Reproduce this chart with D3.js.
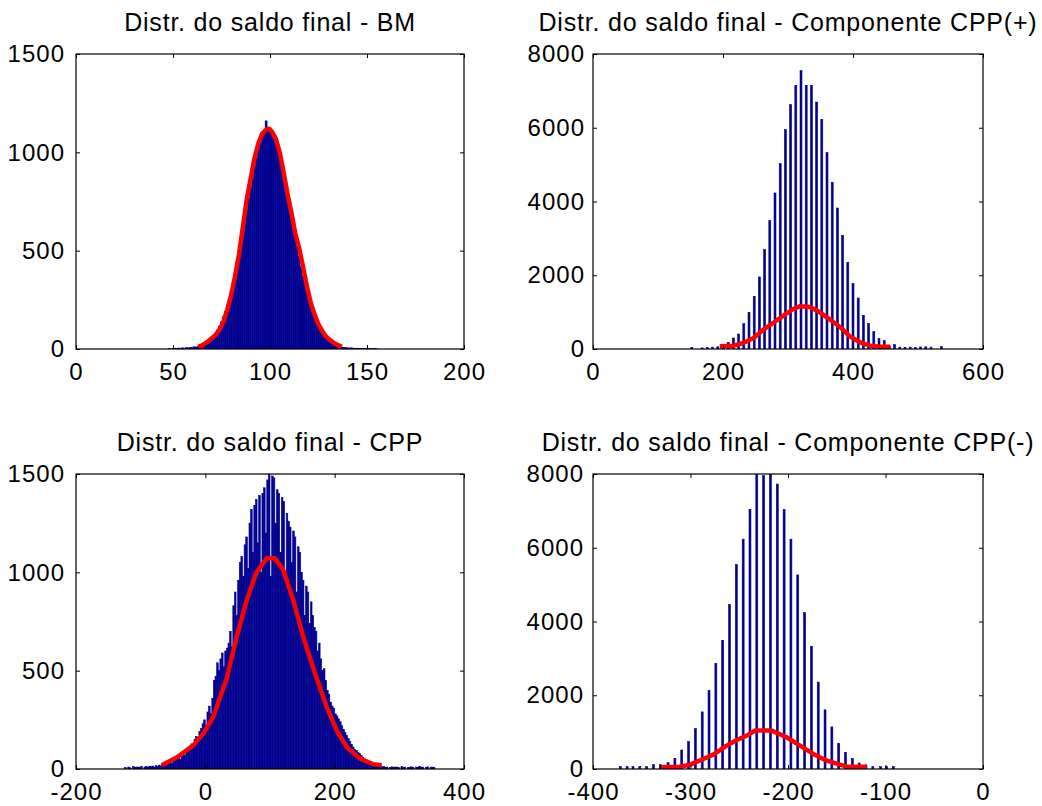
<!DOCTYPE html>
<html>
<head>
<meta charset="utf-8">
<script src="https://cdn.jsdelivr.net/npm/d3@7"></script>
<style>
  body { margin: 0; background: #fff; }
  svg text { font-family: "Liberation Sans", Arial, Helvetica, sans-serif; fill: #000; }
</style>
</head>
<body>
<svg id="fig" width="1042" height="806"></svg>
<script>
// ---------- Distr. do saldo final - BM (bin centres, width 1) ----------
const bmCenters = [48,49,50,51,52,53,54,55,56,57,58,59,60,61,62,63,64,65,66,67,68,69,70,71,72,73,74,75,76,77,78,79,80,81,82,83,84,85,86,87,88,89,90,91,92,93,94,95,96,97,98,99,100,101,102,103,104,105,106,107,108,109,110,111,112,113,114,115,116,117,118,119,120,121,122,123,124,125,126,127,128,129,130,131,132,133,134,135,136,137,138,139,140,141,142,143,144,145,146,147,148,149,150,151,152,153,154,155];
const bmCounts = [2,0,3,4,2,5,3,6,4,7,6,8,9,11,10,14,16,19,24,28,35,43,53,66,78,96,115,138,163,190,224,258,298,340,387,436,488,540,596,652,706,765,818,868,925,968,1012,1046,1078,1090,1160,1118,1125,1102,1086,1060,1030,995,950,905,852,798,742,688,628,575,520,470,420,372,328,288,250,214,182,156,132,110,92,76,62,51,42,34,28,22,18,15,12,10,8,7,6,5,6,4,3,4,2,3,2,3,1,2,2,1,2,1];
const bmFitX = [63,65,68,70,72,74,76,78,80,82,84,86,88,90,92,94,96,98,99.5,101,103,105,107,109,111,113,115,117,119,121,123,125,127,129,131,133,135,137];
const bmFitY = [12,18,38,55,72,100,140,200,275,370,480,620,760,865,970,1045,1095,1115,1120,1105,1070,1000,900,790,695,590,515,420,320,235,175,125,90,62,45,30,20,12];

// ---------- Componente CPP(+) (bin centres, width 3) ----------
const plusCenters = [152,168,176,184,192,200,208,216,224,232,240,248,256,264,272,280,288,296,304,312,320,328,336,344,352,360,368,376,384,392,400,408,416,424,432,440,448,456,464,472,480,488,496,504,512,520,536];
const plusCounts = [45,30,40,50,60,90,181,298,407,687,994,1428,1953,2694,3480,4231,5026,5948,6626,7150,7548,7150,7150,6698,6228,5324,4520,3824,3082,2350,1772,1383,913,687,470,289,226,80,118,50,45,50,40,55,60,50,65];
const plusFitX = [195,216,231,247,262,277,293,308,318,334,349,365,380,395,411,426,442,457];
const plusFitY = [72,90,163,298,524,705,904,1085,1157,1139,994,795,597,343,181,90,63,63];

// ---------- CPP (bin left edges, width 2.5) ----------
const cppEdges = [-125,-122.5,-120,-117.5,-115,-112.5,-110,-107.5,-105,-102.5,-100,-97.5,-95,-92.5,-90,-87.5,-85,-82.5,-80,-77.5,-75,-72.5,-70,-67.5,-65,-62.5,-60,-57.5,-55,-52.5,-50,-47.5,-45,-42.5,-40,-37.5,-35,-32.5,-30,-27.5,-25,-22.5,-20,-17.5,-15,-12.5,-10,-7.5,-5,-2.5,0,2.5,5,7.5,10,12.5,15,17.5,20,22.5,25,27.5,30,32.5,35,37.5,40,42.5,45,47.5,50,52.5,55,57.5,60,62.5,65,67.5,70,72.5,75,77.5,80,82.5,85,87.5,90,92.5,95,97.5,100,102.5,105,107.5,110,112.5,115,117.5,120,122.5,125,127.5,130,132.5,135,137.5,140,142.5,145,147.5,150,152.5,155,157.5,160,162.5,165,167.5,170,172.5,175,177.5,180,182.5,185,187.5,190,192.5,195,197.5,200,202.5,205,207.5,210,212.5,215,217.5,220,222.5,225,227.5,230,232.5,235,237.5,240,242.5,245,247.5,250,252.5,255,257.5,260,262.5,265,267.5,270,272.5,275,277.5,280,282.5,285,287.5,290,292.5,295,297.5,300,302.5,305,307.5,310,312.5,315,317.5,320,322.5,325,327.5,330,332.5,335,337.5,340,342.5,345,347.5,350,352.5];
const cppCounts = [
  8,0,10,6,0,12,8,10,
  10,8,12,0,10,14,9,12,
  12,15,10,18,14,20,16,22,
  24,28,22,32,36,30,42,48,
  55,62,50,72,80,68,92,100,
  110,128,105,150,165,140,190,205,
  230,250,215,290,320,280,360,450,
  470,540,500,560,590,520,600,615,
  640,700,620,830,900,780,960,1050,
  1080,980,1140,1180,1020,1250,1320,1100,
  1340,1370,1150,1390,1000,1400,1430,1200,
  1470,1500,980,1490,1480,1250,1420,1400,
  1100,1380,1360,960,1300,1260,1230,1050,
  1210,1180,900,1130,1100,1000,960,780,
  930,900,740,850,780,720,700,600,
  640,560,500,510,450,400,380,340,
  320,310,280,270,255,240,220,200,
  185,170,155,140,125,112,100,95,
  85,78,70,60,52,45,38,32,
  28,24,20,22,16,13,15,11,
  12,8,10,0,9,11,8,10,
  10,7,0,12,9,10,0,8,
  9,11,8,0,10,7,12,9,
  10,0,8,11,0,9,10,8];
const cppFitX = [-67.5,-44.3,-18.6,-3.1,12.3,33,48.5,64,79.4,94.9,107.7,120.6,136,151.5,169.6,187.6,203,218.6,239.2,259.7,272.7];
const cppFitY = [19,58,120,180,265,460,672,859,1003,1071,1071,1011,859,672,485,316,197,112,53,24,19];

// ---------- Componente CPP(-) (bin centres, width 2) ----------
const minusCenters = [-372,-365,-359,-352,-345,-338,-331,-323,-316,-309,-302,-295,-288,-281,-274,-267,-260,-253,-246,-239,-232,-225,-218,-211,-204,-197,-190,-183,-176,-169,-162,-155,-148,-141,-134,-127,-120,-113,-105,-99,-92];
const minusCounts = [63,63,63,63,63,118,118,172,290,516,743,1096,1549,2129,2863,3488,4458,5545,6233,7040,7991,7955,8300,7728,7040,6233,5264,4240,3325,2356,1604,1142,689,453,290,163,109,63,63,63,63];
const minusFitX = [-330.3,-310.8,-300.5,-286.9,-276.6,-262.9,-252.6,-242.4,-233.8,-216.7,-201.4,-187.7,-174,-160.3,-146.7,-139.8,-119.3];
const minusFitY = [45,63,118,272,390,634,788,906,1042,1042,861,634,408,226,118,63,63];

// ---------- axis ticks ----------
const bmXTicks = [0, 50, 100, 150, 200];
const bmXLabels = ["0", "50", "100", "150", "200"];
const plusXTicks = [0, 200, 400, 600];
const plusXLabels = ["0", "200", "400", "600"];
const cppXTicks = [-200, 0, 200, 400];
const cppXLabels = ["-200", "0", "200", "400"];
const minusXTicks = [-400, -300, -200, -100, 0];
const minusXLabels = ["-400", "-300", "-200", "-100", "0"];
const smallYTicks = [0, 500, 1000, 1500];
const smallYLabels = ["0", "500", "1000", "1500"];
const bigYTicks = [0, 2000, 4000, 6000, 8000];
const bigYLabels = ["0", "2000", "4000", "6000", "8000"];

const BAR = "#000090";

const panels = [
  { title: "Distr. do saldo final - BM", box: [76, 54, 464, 349],
    xDomain: [0, 200], yDomain: [0, 1500],
    bins: bmCenters, align: "center", width: 1, counts: bmCounts,
    fitX: bmFitX, fitY: bmFitY,
    xTicks: bmXTicks, xLabels: bmXLabels, yTicks: smallYTicks, yLabels: smallYLabels, yPad: 11 },
  { title: "Distr. do saldo final - Componente CPP(+)", box: [593, 54, 983, 349],
    xDomain: [0, 600], yDomain: [0, 8000],
    bins: plusCenters, align: "center", width: 3, counts: plusCounts,
    fitX: plusFitX, fitY: plusFitY,
    xTicks: plusXTicks, xLabels: plusXLabels, yTicks: bigYTicks, yLabels: bigYLabels, yPad: 8 },
  { title: "Distr. do saldo final - CPP", box: [76, 474, 464, 769],
    xDomain: [-200, 400], yDomain: [0, 1500],
    bins: cppEdges, align: "left", width: 2.5, counts: cppCounts,
    fitX: cppFitX, fitY: cppFitY,
    xTicks: cppXTicks, xLabels: cppXLabels, yTicks: smallYTicks, yLabels: smallYLabels, yPad: 11 },
  { title: "Distr. do saldo final - Componente CPP(-)", box: [593, 474, 983, 769],
    xDomain: [-400, 0], yDomain: [0, 8000],
    bins: minusCenters, align: "center", width: 2, counts: minusCounts,
    fitX: minusFitX, fitY: minusFitY,
    xTicks: minusXTicks, xLabels: minusXLabels, yTicks: bigYTicks, yLabels: bigYLabels, yPad: 9 }
];

const svg = d3.select("#fig");
const defs = svg.append("defs");

panels.forEach((p, idx) => {
  const [x0, y0, x1, y1] = p.box;
  const x = d3.scaleLinear().domain(p.xDomain).range([x0, x1]);
  const y = d3.scaleLinear().domain(p.yDomain).range([y1, y0]);
  const g = svg.append("g");

  defs.append("clipPath").attr("id", "clip" + idx)
    .append("rect").attr("x", x0).attr("y", y0).attr("width", x1 - x0).attr("height", y1 - y0);

  const plot = g.append("g").attr("clip-path", `url(#clip${idx})`);
  const lo = b => p.align === "center" ? b - p.width / 2 : b;
  const bars = p.counts.map((c, i) => ({ b: p.bins[i], c })).filter(d => d.c > 0);

  // histogram bars, edged in the face colour like MATLAB's hist
  plot.selectAll("rect.bar").data(bars).join("rect")
    .attr("class", "bar")
    .attr("x", d => x(lo(d.b)))
    .attr("width", d => x(lo(d.b) + p.width) - x(lo(d.b)))
    .attr("y", d => y(d.c))
    .attr("height", d => y(0) - y(d.c))
    .attr("fill", BAR)
    .attr("stroke", BAR)
    .attr("stroke-width", 0.6);

  // fitted curve
  const line = d3.line().x(d => x(d[0])).y(d => y(d[1]));
  plot.append("path")
    .datum(p.fitX.map((v, i) => [v, p.fitY[i]]))
    .attr("d", line)
    .attr("fill", "none")
    .attr("stroke", "#ff0000")
    .attr("stroke-width", 4.5)
    .attr("stroke-linejoin", "round")
    .attr("stroke-linecap", "butt");

  // frame
  g.append("rect")
    .attr("x", x0).attr("y", y0).attr("width", x1 - x0).attr("height", y1 - y0)
    .attr("fill", "none").attr("stroke", "#000").attr("stroke-width", 1.2);

  // axes with inward ticks on all four sides
  const styleAxis = sel => {
    sel.select(".domain").remove();
    sel.selectAll(".tick line").attr("stroke", "#000").attr("stroke-width", 1);
    sel.selectAll(".tick text").attr("font-size", 24).attr("letter-spacing", 1)
      .attr("font-family", null).attr("fill", "#000");
  };
  g.append("g").attr("transform", `translate(0,${y1})`)
    .call(d3.axisBottom(x).tickValues(p.xTicks).tickFormat((d, i) => p.xLabels[i])
      .tickSizeInner(-4).tickSizeOuter(0).tickPadding(14))
    .call(styleAxis);
  g.append("g").attr("transform", `translate(0,${y0})`)
    .call(d3.axisTop(x).tickValues(p.xTicks).tickFormat("").tickSizeInner(-4).tickSizeOuter(0))
    .call(styleAxis);
  g.append("g").attr("transform", `translate(${x0},0)`)
    .call(d3.axisLeft(y).tickValues(p.yTicks).tickFormat((d, i) => p.yLabels[i])
      .tickSizeInner(-4).tickSizeOuter(0).tickPadding(p.yPad))
    .call(styleAxis);
  g.append("g").attr("transform", `translate(${x1},0)`)
    .call(d3.axisRight(y).tickValues(p.yTicks).tickFormat("").tickSizeInner(-4).tickSizeOuter(0))
    .call(styleAxis);

  // title
  g.append("text")
    .attr("x", (x0 + x1) / 2).attr("y", y0 - 23)
    .attr("text-anchor", "middle")
    .attr("font-size", 25).attr("letter-spacing", 0.8)
    .text(p.title);
});
</script>
</body>
</html>
